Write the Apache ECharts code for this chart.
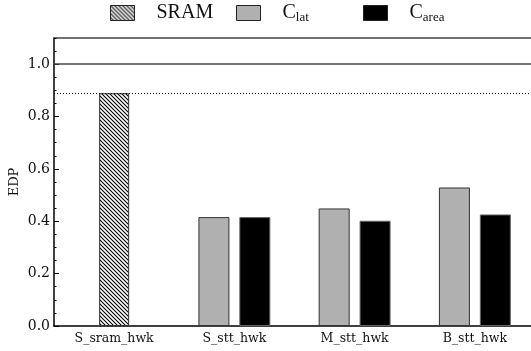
<!DOCTYPE html>
<html><head><meta charset="utf-8">
<script src="https://cdn.jsdelivr.net/npm/echarts@6/dist/echarts.min.js"></script>
<style>html,body{margin:0;padding:0;background:#fff}#c{width:531px;height:351px}</style>
</head><body><div id="c"></div>
<script>
const categories = ['S_sram_hwk', 'S_stt_hwk', 'M_stt_hwk', 'B_stt_hwk'];
const sramValues = [0.889, null, null, null];
const clatValues = [null, 0.416, 0.449, 0.529];
const careaValues = [null, 0.416, 0.402, 0.426];
const refLine = 1.0;
const sramLine = 0.889;

function hatch() {
  const c = document.createElement('canvas');
  c.width = 4; c.height = 4;
  const g = c.getContext('2d');
  g.fillStyle = '#fff'; g.fillRect(0, 0, 4, 4);
  g.strokeStyle = '#000'; g.lineWidth = 1.1;
  g.beginPath();
  g.moveTo(-1, -1); g.lineTo(5, 5);
  g.moveTo(-1, 3); g.lineTo(1, 5);
  g.moveTo(3, -1); g.lineTo(5, 1);
  g.stroke();
  return { image: c, repeat: 'repeat' };
}
const hatchFill = hatch();
const serif = 'DejaVu Serif';
const legendFont = 'Liberation Serif';
const legendRich = {
  t: { fontFamily: legendFont, fontSize: 20, color: '#111', padding: [0, 0, 0, 17] },
  c: { fontFamily: legendFont, fontSize: 20, color: '#111', padding: [0, 0, 0, 17] },
  s: { fontFamily: legendFont, fontSize: 13, color: '#111', padding: [10, 0, 0, 0] }
};
function mkLegend(name, left, fmt) {
  return {
    data: [name], left: left, top: 3, padding: 0, itemWidth: 24, itemHeight: 15,
    icon: 'rect', selectedMode: false,
    itemStyle: { borderWidth: 1, borderColor: '#222' },
    formatter: () => fmt,
    textStyle: { rich: legendRich }
  };
}
const chart = echarts.init(document.getElementById('c'), null, { renderer: 'canvas' });
chart.setOption({
  animation: false,
  grid: { left: 54, right: -4, top: 38, bottom: 25, containLabel: false, outerBoundsMode: 'none' },
  legend: [
    mkLegend('SRAM', 110, '{t|SRAM}'),
    mkLegend('Clat', 236, '{c|C}{s|lat}'),
    mkLegend('Carea', 363, '{c|C}{s|area}')
  ],
  xAxis: [
    { type: 'category', data: categories, position: 'bottom',
      axisLine: { onZero: false, lineStyle: { color: '#000', width: 1.5 } },
      axisTick: { show: false },
      axisLabel: { fontFamily: serif, fontSize: 12.5, color: '#111', margin: 6 } },
    { type: 'category', data: categories, position: 'top',
      axisLine: { show: true, onZero: false, lineStyle: { color: '#444', width: 1.5 } },
      axisTick: { show: false }, axisLabel: { show: false } }
  ],
  yAxis: [
    { type: 'value', min: 0, max: 1.1, interval: 0.2,
      name: 'EDP', nameLocation: 'middle', nameGap: 33, nameRotate: 90, nameMoveOverlap: false,
      nameTextStyle: { fontFamily: serif, fontSize: 13, color: '#111' },
      axisLine: { show: true, onZero: false, lineStyle: { color: '#000', width: 1.5 } },
      axisTick: { show: true, inside: true, length: 5, lineStyle: { color: '#000', width: 1 } },
      axisLabel: { fontFamily: serif, fontSize: 14, color: '#111', margin: 4, showMaxLabel: false,
        formatter: v => v.toFixed(1) },
      splitLine: { show: false } },
    { type: 'value', min: 0, max: 1.1, interval: 0.05, position: 'left',
      axisLine: { show: false },
      axisTick: { show: true, inside: true, length: 2.5, lineStyle: { color: '#000', width: 1 } },
      axisLabel: { show: false }, splitLine: { show: false } }
  ],
  series: [
    { name: 'SRAM', type: 'bar', xAxisIndex: 1, yAxisIndex: 0, data: sramValues, barWidth: 30,
      itemStyle: { color: hatchFill, borderColor: '#333', borderWidth: 1 },
      markLine: { silent: true, symbol: 'none', label: { show: false },
        data: [
          { yAxis: refLine, lineStyle: { type: 'solid', color: '#444', width: 1.5 } },
          { yAxis: sramLine, lineStyle: { type: [1, 2], color: '#000', width: 1 } }
        ] } },
    { name: 'Clat', type: 'bar', xAxisIndex: 0, yAxisIndex: 0, data: clatValues, barWidth: 31, barGap: '32%',
      itemStyle: { color: '#b0b0b0', borderColor: '#333', borderWidth: 1 } },
    { name: 'Carea', type: 'bar', xAxisIndex: 0, yAxisIndex: 0, data: careaValues, barWidth: 31, barGap: '32%',
      itemStyle: { color: '#000', borderColor: '#666', borderWidth: 1 } }
  ]
});
</script></body></html>
